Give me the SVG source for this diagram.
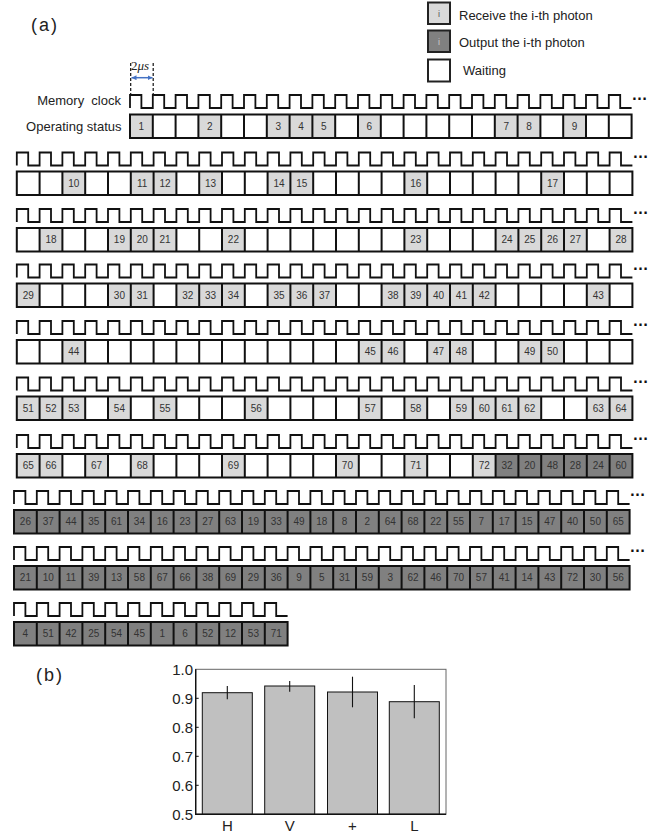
<svg xmlns="http://www.w3.org/2000/svg" xmlns:xlink="http://www.w3.org/1999/xlink" width="667" height="833" viewBox="0 0 667 833">
<style>
.ck{fill:none;stroke:#111;stroke-width:1.8}
.gd{fill:none;stroke:#111;stroke-width:2}
.lt{fill:#d9d9d9}
.dk{fill:#808080}
.n{font-family:"Liberation Sans",Arial,sans-serif;font-size:10px;fill:#333;text-anchor:middle}
.lb{font-family:"Liberation Sans",Arial,sans-serif;font-size:13px;fill:#222}
.dt{font-family:"Liberation Sans",Arial,sans-serif;font-size:16px;font-weight:bold;fill:#111}
.pl{font-family:"Liberation Sans",Arial,sans-serif;font-size:18px;fill:#222;letter-spacing:2px}
.ax{font-family:"Liberation Sans",Arial,sans-serif;font-size:15px;fill:#222}
</style>
<defs>
<marker id="ah" viewBox="0 0 6 6" refX="6" refY="3" markerWidth="5" markerHeight="5" markerUnits="userSpaceOnUse" orient="auto-start-reverse"><path d="M0,0L6,3L0,6z" fill="#4472c4"/></marker>
<path id="clk27" class="ck" d="M0,0
v-13h11.4v13h11.4 v-13h11.4v13h11.4 v-13h11.4v13h11.4 v-13h11.4v13h11.4 v-13h11.4v13h11.4
v-13h11.4v13h11.4 v-13h11.4v13h11.4 v-13h11.4v13h11.4 v-13h11.4v13h11.4 v-13h11.4v13h11.4
v-13h11.4v13h11.4 v-13h11.4v13h11.4 v-13h11.4v13h11.4 v-13h11.4v13h11.4 v-13h11.4v13h11.4
v-13h11.4v13h11.4 v-13h11.4v13h11.4 v-13h11.4v13h11.4 v-13h11.4v13h11.4 v-13h11.4v13h11.4
v-13h11.4v13h11.4 v-13h11.4v13h11.4 v-13h11.4v13h11.4 v-13h11.4v13h11.4 v-13h11.4v13h11.4
v-13h11.4v13h11.4 v-13h11.4v13h11.4"/>
<path id="clk22" class="ck" d="M0,0
v-13h11.4v13h11.4 v-13h11.4v13h11.4 v-13h11.4v13h11.4 v-13h11.4v13h11.4 v-13h11.4v13h11.4
v-13h11.4v13h11.4 v-13h11.4v13h11.4 v-13h11.4v13h11.4 v-13h11.4v13h11.4 v-13h11.4v13h11.4
v-13h11.4v13h11.4 v-13h11.4v13h11.4 v-13h11.4v13h11.4 v-13h11.4v13h11.4 v-13h11.4v13h11.4
v-13h11.4v13h11.4 v-13h11.4v13h11.4 v-13h11.4v13h11.4 v-13h11.4v13h11.4 v-13h11.4v13h11.4
v-13h11.4v13h11.4 v-13h11.4v13h11.4"/>
<path id="clk12" class="ck" d="M0,0
v-13h11.4v13h11.4 v-13h11.4v13h11.4 v-13h11.4v13h11.4 v-13h11.4v13h11.4 v-13h11.4v13h11.4
v-13h11.4v13h11.4 v-13h11.4v13h11.4 v-13h11.4v13h11.4 v-13h11.4v13h11.4 v-13h11.4v13h11.4
v-13h11.4v13h11.4 v-13h11.4v13h11.4"/>
<path id="grid27" class="gd" d="M0,0h615.6v23.5h-615.6zM22.8,0v23.5m22.8-23.5v23.5m22.8-23.5v23.5m22.8-23.5v23.5m22.8-23.5v23.5m22.8-23.5v23.5m22.8-23.5v23.5m22.8-23.5v23.5m22.8-23.5v23.5m22.8-23.5v23.5m22.8-23.5v23.5m22.8-23.5v23.5m22.8-23.5v23.5m22.8-23.5v23.5m22.8-23.5v23.5m22.8-23.5v23.5m22.8-23.5v23.5m22.8-23.5v23.5m22.8-23.5v23.5m22.8-23.5v23.5m22.8-23.5v23.5m22.8-23.5v23.5m22.8-23.5v23.5m22.8-23.5v23.5m22.8-23.5v23.5m22.8-23.5v23.5"/>
<path id="grid22" class="gd" d="M0,0h501.6v23.5h-501.6zM22.8,0v23.5m22.8-23.5v23.5m22.8-23.5v23.5m22.8-23.5v23.5m22.8-23.5v23.5m22.8-23.5v23.5m22.8-23.5v23.5m22.8-23.5v23.5m22.8-23.5v23.5m22.8-23.5v23.5m22.8-23.5v23.5m22.8-23.5v23.5m22.8-23.5v23.5m22.8-23.5v23.5m22.8-23.5v23.5m22.8-23.5v23.5m22.8-23.5v23.5m22.8-23.5v23.5m22.8-23.5v23.5m22.8-23.5v23.5m22.8-23.5v23.5"/>
<path id="grid12" class="gd" d="M0,0h273.6v23.5h-273.6zM22.8,0v23.5m22.8-23.5v23.5m22.8-23.5v23.5m22.8-23.5v23.5m22.8-23.5v23.5m22.8-23.5v23.5m22.8-23.5v23.5m22.8-23.5v23.5m22.8-23.5v23.5m22.8-23.5v23.5m22.8-23.5v23.5"/>
</defs>
<rect width="667" height="833" fill="#fff"/>

<g id="panel-a-header">
<text class="pl" x="31" y="31">(a)</text>
<text class="lb" x="121" y="105" text-anchor="end" style="white-space:pre">Memory  clock</text>
<text class="lb" x="121.5" y="130.5" text-anchor="end">Operating status</text>
<path d="M130.7,63V96M153.2,63V95" fill="none" stroke="#111" stroke-width="1.2" stroke-dasharray="3,2"/>
<line x1="131.5" y1="77.7" x2="152.5" y2="77.7" stroke="#4472c4" stroke-width="1.5" marker-start="url(#ah)" marker-end="url(#ah)"/>
<text x="131" y="70" font-family="Liberation Serif,serif" font-size="13" fill="#222">2<tspan font-style="italic">μs</tspan></text>
</g>

<g id="legend">
<rect x="428" y="2.5" width="22" height="21.5" class="lt" stroke="#222" stroke-width="2"/>
<text x="439" y="16.5" font-family="Liberation Sans,sans-serif" font-size="9" fill="#555" text-anchor="middle">i</text>
<text class="lb" x="459" y="19.5">Receive the i-th photon</text>
<rect x="428" y="30.5" width="22" height="21.5" class="dk" stroke="#222" stroke-width="2"/>
<text x="439" y="44.5" font-family="Liberation Sans,sans-serif" font-size="9" fill="#ccc" text-anchor="middle">i</text>
<text class="lb" x="459" y="47">Output the i-th photon</text>
<rect x="428" y="59.5" width="22" height="22" fill="#fff" stroke="#222" stroke-width="2"/>
<text class="lb" x="463" y="74.5">Waiting</text>
</g>

<g id="row1">
<use href="#clk22" x="130" y="108"/>
<text class="dt" x="631.5" y="100">…</text>
<rect class="lt" x="130" y="114.5" width="22.8" height="23.5"/>
<rect class="lt" x="198.4" y="114.5" width="22.8" height="23.5"/>
<rect class="lt" x="266.8" y="114.5" width="68.4" height="23.5"/>
<rect class="lt" x="358" y="114.5" width="22.8" height="23.5"/>
<rect class="lt" x="494.8" y="114.5" width="45.6" height="23.5"/>
<rect class="lt" x="563.2" y="114.5" width="22.8" height="23.5"/>
<use href="#grid22" x="130" y="114.5"/>
<text class="n" y="129.8"><tspan x="141.4">1</tspan><tspan x="209.8">2</tspan><tspan x="278.2">3</tspan><tspan x="301">4</tspan><tspan x="323.8">5</tspan><tspan x="369.4">6</tspan><tspan x="506.2">7</tspan><tspan x="529">8</tspan><tspan x="574.6">9</tspan></text>
</g>

<g id="row2">
<use href="#clk27" x="16.8" y="165.5"/>
<text class="dt" x="632.5" y="157.5">…</text>
<rect class="lt" x="62.4" y="171.5" width="22.8" height="23.5"/>
<rect class="lt" x="130.8" y="171.5" width="45.6" height="23.5"/>
<rect class="lt" x="199.2" y="171.5" width="22.8" height="23.5"/>
<rect class="lt" x="267.6" y="171.5" width="45.6" height="23.5"/>
<rect class="lt" x="404.4" y="171.5" width="22.8" height="23.5"/>
<rect class="lt" x="541.2" y="171.5" width="22.8" height="23.5"/>
<use href="#grid27" x="16.8" y="171.5"/>
<text class="n" y="186.8"><tspan x="73.8">10</tspan><tspan x="142.2">11</tspan><tspan x="165">12</tspan><tspan x="210.6">13</tspan><tspan x="279">14</tspan><tspan x="301.8">15</tspan><tspan x="415.8">16</tspan><tspan x="552.6">17</tspan></text>
</g>

<g id="row3">
<use href="#clk27" x="16.8" y="222"/>
<text class="dt" x="632.5" y="214">…</text>
<rect class="lt" x="39.6" y="228" width="22.8" height="23.5"/>
<rect class="lt" x="108" y="228" width="68.4" height="23.5"/>
<rect class="lt" x="222" y="228" width="22.8" height="23.5"/>
<rect class="lt" x="404.4" y="228" width="22.8" height="23.5"/>
<rect class="lt" x="495.6" y="228" width="91.2" height="23.5"/>
<rect class="lt" x="609.6" y="228" width="22.8" height="23.5"/>
<use href="#grid27" x="16.8" y="228"/>
<text class="n" y="243.3"><tspan x="51">18</tspan><tspan x="119.4">19</tspan><tspan x="142.2">20</tspan><tspan x="165">21</tspan><tspan x="233.4">22</tspan><tspan x="415.8">23</tspan><tspan x="507">24</tspan><tspan x="529.8">25</tspan><tspan x="552.6">26</tspan><tspan x="575.4">27</tspan><tspan x="621">28</tspan></text>
</g>

<g id="row4">
<use href="#clk27" x="16.8" y="277.5"/>
<text class="dt" x="632.5" y="269.5">…</text>
<rect class="lt" x="16.8" y="283.5" width="22.8" height="23.5"/>
<rect class="lt" x="108" y="283.5" width="45.6" height="23.5"/>
<rect class="lt" x="176.4" y="283.5" width="68.4" height="23.5"/>
<rect class="lt" x="267.6" y="283.5" width="68.4" height="23.5"/>
<rect class="lt" x="381.6" y="283.5" width="114" height="23.5"/>
<rect class="lt" x="586.8" y="283.5" width="22.8" height="23.5"/>
<use href="#grid27" x="16.8" y="283.5"/>
<text class="n" y="298.8"><tspan x="28.2">29</tspan><tspan x="119.4">30</tspan><tspan x="142.2">31</tspan><tspan x="187.8">32</tspan><tspan x="210.6">33</tspan><tspan x="233.4">34</tspan><tspan x="279">35</tspan><tspan x="301.8">36</tspan><tspan x="324.6">37</tspan><tspan x="393">38</tspan><tspan x="415.8">39</tspan><tspan x="438.6">40</tspan><tspan x="461.4">41</tspan><tspan x="484.2">42</tspan><tspan x="598.2">43</tspan></text>
</g>

<g id="row5">
<use href="#clk27" x="16.8" y="334"/>
<text class="dt" x="632.5" y="326">…</text>
<rect class="lt" x="62.4" y="340" width="22.8" height="23.5"/>
<rect class="lt" x="358.8" y="340" width="45.6" height="23.5"/>
<rect class="lt" x="427.2" y="340" width="45.6" height="23.5"/>
<rect class="lt" x="518.4" y="340" width="45.6" height="23.5"/>
<use href="#grid27" x="16.8" y="340"/>
<text class="n" y="355.3"><tspan x="73.8">44</tspan><tspan x="370.2">45</tspan><tspan x="393">46</tspan><tspan x="438.6">47</tspan><tspan x="461.4">48</tspan><tspan x="529.8">49</tspan><tspan x="552.6">50</tspan></text>
</g>

<g id="row6">
<use href="#clk27" x="16.8" y="390.5"/>
<text class="dt" x="632.5" y="382.5">…</text>
<rect class="lt" x="16.8" y="396.5" width="68.4" height="23.5"/>
<rect class="lt" x="108" y="396.5" width="22.8" height="23.5"/>
<rect class="lt" x="153.6" y="396.5" width="22.8" height="23.5"/>
<rect class="lt" x="244.8" y="396.5" width="22.8" height="23.5"/>
<rect class="lt" x="358.8" y="396.5" width="22.8" height="23.5"/>
<rect class="lt" x="404.4" y="396.5" width="22.8" height="23.5"/>
<rect class="lt" x="450" y="396.5" width="91.2" height="23.5"/>
<rect class="lt" x="586.8" y="396.5" width="45.6" height="23.5"/>
<use href="#grid27" x="16.8" y="396.5"/>
<text class="n" y="411.8"><tspan x="28.2">51</tspan><tspan x="51">52</tspan><tspan x="73.8">53</tspan><tspan x="119.4">54</tspan><tspan x="165">55</tspan><tspan x="256.2">56</tspan><tspan x="370.2">57</tspan><tspan x="415.8">58</tspan><tspan x="461.4">59</tspan><tspan x="484.2">60</tspan><tspan x="507">61</tspan><tspan x="529.8">62</tspan><tspan x="598.2">63</tspan><tspan x="621">64</tspan></text>
</g>

<g id="row7">
<use href="#clk27" x="16.8" y="448"/>
<text class="dt" x="632.5" y="440">…</text>
<rect class="lt" x="16.8" y="454" width="45.6" height="23.5"/>
<rect class="lt" x="85.2" y="454" width="22.8" height="23.5"/>
<rect class="lt" x="130.8" y="454" width="22.8" height="23.5"/>
<rect class="lt" x="222" y="454" width="22.8" height="23.5"/>
<rect class="lt" x="336" y="454" width="22.8" height="23.5"/>
<rect class="lt" x="404.4" y="454" width="22.8" height="23.5"/>
<rect class="lt" x="472.8" y="454" width="22.8" height="23.5"/>
<rect class="dk" x="495.6" y="454" width="136.8" height="23.5"/>
<use href="#grid27" x="16.8" y="454"/>
<text class="n" y="469.3"><tspan x="28.2">65</tspan><tspan x="51">66</tspan><tspan x="96.6">67</tspan><tspan x="142.2">68</tspan><tspan x="233.4">69</tspan><tspan x="347.4">70</tspan><tspan x="415.8">71</tspan><tspan x="484.2">72</tspan><tspan x="507">32</tspan><tspan x="529.8">20</tspan><tspan x="552.6">48</tspan><tspan x="575.4">28</tspan><tspan x="598.2">24</tspan><tspan x="621">60</tspan></text>
</g>

<g id="row8">
<use href="#clk27" x="14" y="504"/>
<text class="dt" x="629.5" y="496">…</text>
<rect class="dk" x="14" y="510" width="615.6" height="23.5"/>
<use href="#grid27" x="14" y="510"/>
<text class="n" y="525.3"><tspan x="25.4">26</tspan><tspan x="48.2">37</tspan><tspan x="71">44</tspan><tspan x="93.8">35</tspan><tspan x="116.6">61</tspan><tspan x="139.4">34</tspan><tspan x="162.2">16</tspan><tspan x="185">23</tspan><tspan x="207.8">27</tspan><tspan x="230.6">63</tspan><tspan x="253.4">19</tspan><tspan x="276.2">33</tspan><tspan x="299">49</tspan><tspan x="321.8">18</tspan><tspan x="344.6">8</tspan><tspan x="367.4">2</tspan><tspan x="390.2">64</tspan><tspan x="413">68</tspan><tspan x="435.8">22</tspan><tspan x="458.6">55</tspan><tspan x="481.4">7</tspan><tspan x="504.2">17</tspan><tspan x="527">15</tspan><tspan x="549.8">47</tspan><tspan x="572.6">40</tspan><tspan x="595.4">50</tspan><tspan x="618.2">65</tspan></text>
</g>

<g id="row9">
<use href="#clk27" x="14" y="560"/>
<text class="dt" x="629.5" y="552">…</text>
<rect class="dk" x="14" y="566" width="615.6" height="23.5"/>
<use href="#grid27" x="14" y="566"/>
<text class="n" y="581.3"><tspan x="25.4">21</tspan><tspan x="48.2">10</tspan><tspan x="71">11</tspan><tspan x="93.8">39</tspan><tspan x="116.6">13</tspan><tspan x="139.4">58</tspan><tspan x="162.2">67</tspan><tspan x="185">66</tspan><tspan x="207.8">38</tspan><tspan x="230.6">69</tspan><tspan x="253.4">29</tspan><tspan x="276.2">36</tspan><tspan x="299">9</tspan><tspan x="321.8">5</tspan><tspan x="344.6">31</tspan><tspan x="367.4">59</tspan><tspan x="390.2">3</tspan><tspan x="413">62</tspan><tspan x="435.8">46</tspan><tspan x="458.6">70</tspan><tspan x="481.4">57</tspan><tspan x="504.2">41</tspan><tspan x="527">14</tspan><tspan x="549.8">43</tspan><tspan x="572.6">72</tspan><tspan x="595.4">30</tspan><tspan x="618.2">56</tspan></text>
</g>

<g id="row10">
<use href="#clk12" x="14" y="616"/>
<rect class="dk" x="14" y="622" width="273.6" height="23.5"/>
<use href="#grid12" x="14" y="622"/>
<text class="n" y="637.3"><tspan x="25.4">4</tspan><tspan x="48.2">51</tspan><tspan x="71">42</tspan><tspan x="93.8">25</tspan><tspan x="116.6">54</tspan><tspan x="139.4">45</tspan><tspan x="162.2">1</tspan><tspan x="185">6</tspan><tspan x="207.8">52</tspan><tspan x="230.6">12</tspan><tspan x="253.4">53</tspan><tspan x="276.2">71</tspan></text>
</g>

<g id="panel-b">
<text class="pl" x="36" y="681">(b)</text>
<rect x="195.7" y="669.3" width="250.3" height="145" fill="none" stroke="#666" stroke-width="1"/>
<g id="bars" fill="#c0c0c0" stroke="#111" stroke-width="1">
<rect x="202.3" y="692.7" width="50" height="121.6"/>
<rect x="264.7" y="686" width="50" height="128.3"/>
<rect x="327.5" y="692" width="50" height="122.3"/>
<rect x="389.3" y="701.7" width="50" height="112.6"/>
</g>
<g id="errorbars" stroke="#111" stroke-width="1.1">
<line x1="227.3" y1="686" x2="227.3" y2="699.3"/>
<line x1="289.7" y1="681" x2="289.7" y2="691.7"/>
<line x1="352.5" y1="676.7" x2="352.5" y2="707.3"/>
<line x1="414.3" y1="685" x2="414.3" y2="718.3"/>
</g>
<path d="M195.7,669.3V814.3H446" fill="none" stroke="#111" stroke-width="1.4"/>
<path d="M195.7,698.3h3M195.7,727.3h3M195.7,756.3h3M195.7,785.3h3" stroke="#111" stroke-width="1"/>
<g class="ax" text-anchor="end">
<text x="193" y="675">1.0</text>
<text x="193" y="704">0.9</text>
<text x="193" y="733">0.8</text>
<text x="193" y="762">0.7</text>
<text x="193" y="791">0.6</text>
<text x="193" y="820">0.5</text>
</g>
<g class="ax" text-anchor="middle">
<text x="227.3" y="830.5">H</text>
<text x="289.7" y="830.5">V</text>
<text x="352.5" y="830.5">+</text>
<text x="414.3" y="830.5">L</text>
</g>
</g>
</svg>
